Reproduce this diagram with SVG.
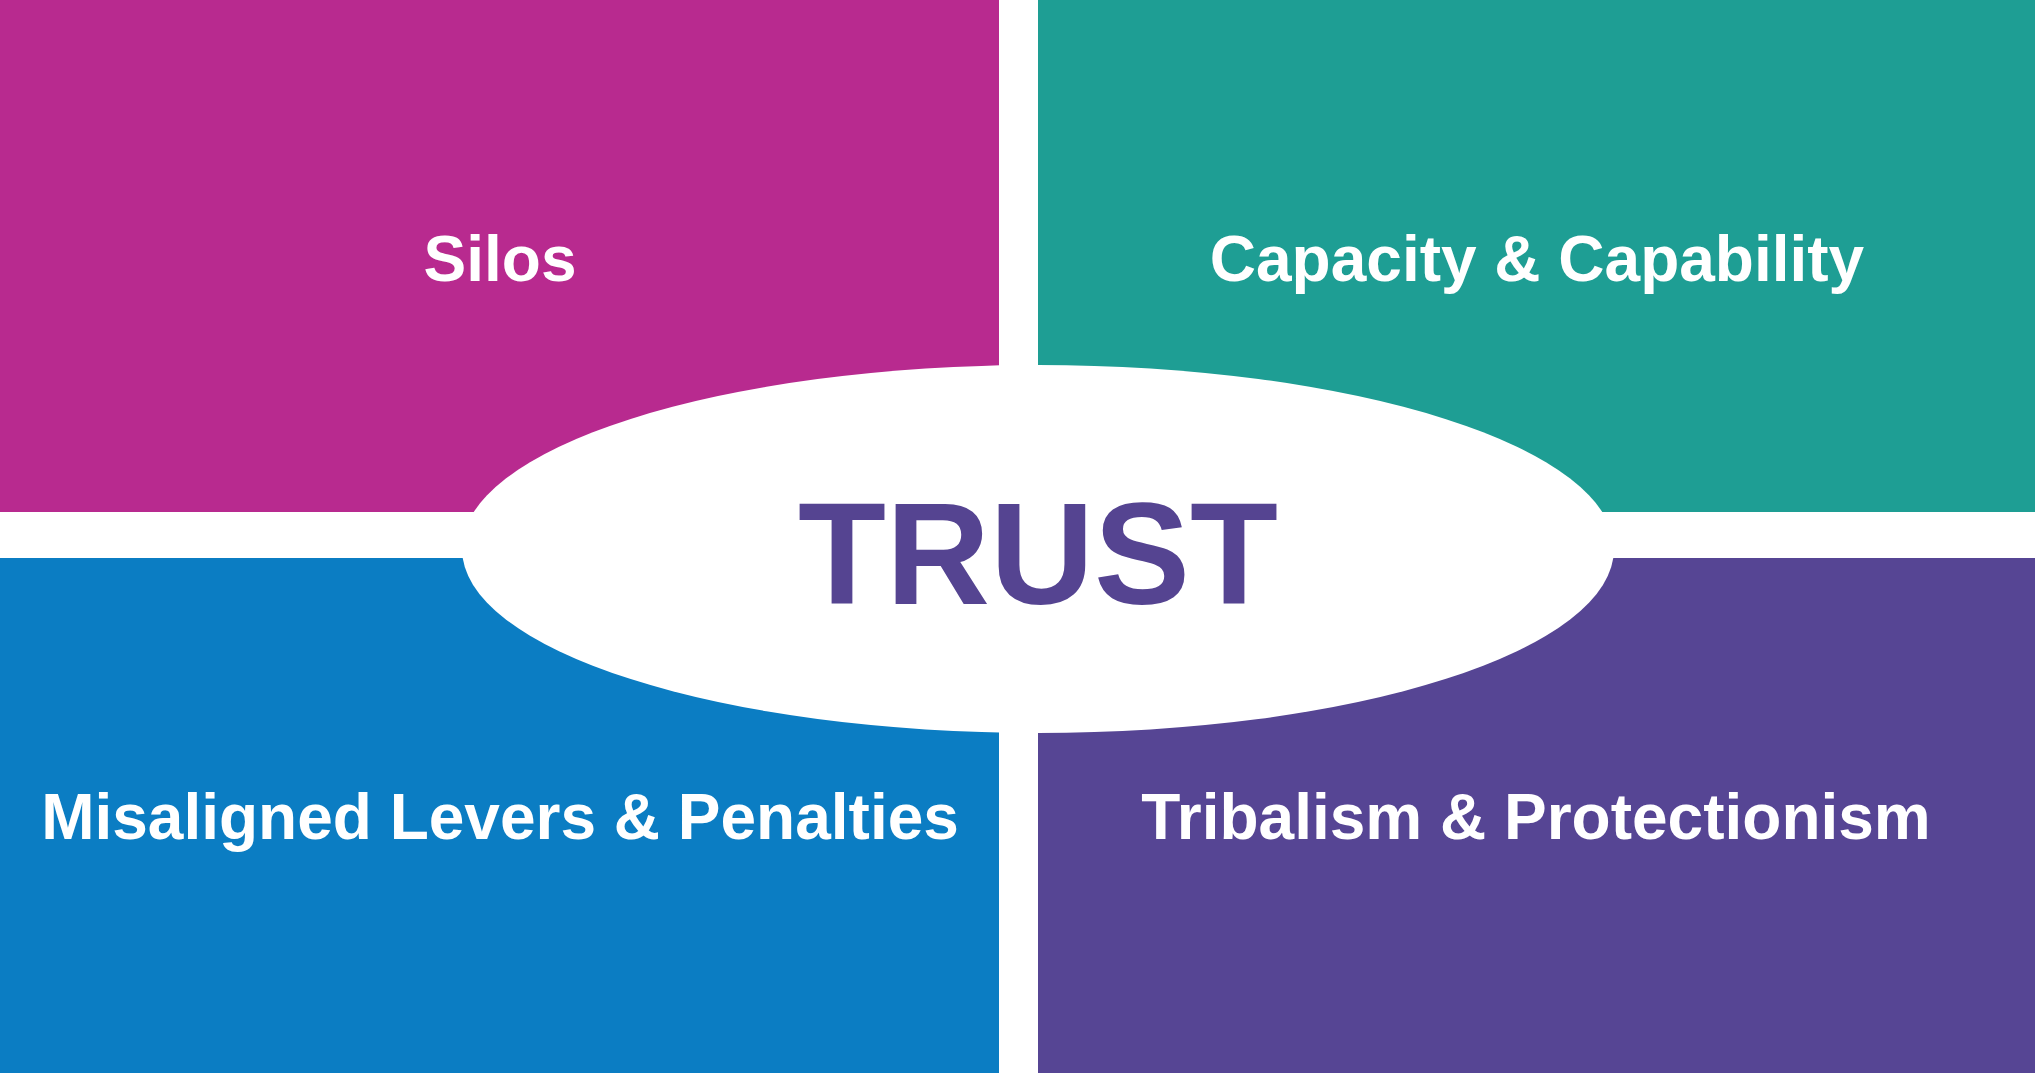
<svg xmlns="http://www.w3.org/2000/svg" width="2035" height="1073" viewBox="0 0 2035 1073">
<style>
.lbl{font-family:"Liberation Sans",Arial,sans-serif;font-weight:bold;font-size:64px;fill:#ffffff;text-anchor:middle}
.trust{font-family:"Liberation Sans",Arial,sans-serif;font-weight:bold;font-size:144px;fill:#554491;text-anchor:middle}
</style>
<rect width="2035" height="1073" fill="#ffffff"/>
<g id="silos"><rect x="0" y="0" width="999" height="512" fill="#B82A8F"/><text class="lbl" x="500" y="281">Silos</text></g>
<g id="capacity"><rect x="1038" y="0" width="997" height="512" fill="#1E9E94"/><text class="lbl" x="1537" y="281">Capacity &amp; Capability</text></g>
<g id="misaligned"><rect x="0" y="558" width="999" height="515" fill="#0B7DC3"/><text class="lbl" x="500" y="839">Misaligned Levers &amp; Penalties</text></g>
<g id="tribalism"><rect x="1038" y="558" width="997" height="515" fill="#564594"/><text class="lbl" x="1536" y="839">Tribalism &amp; Protectionism</text></g>
<g id="trust"><ellipse cx="1038" cy="549" rx="576" ry="184" fill="#ffffff"/><text class="trust" x="1038" y="604">TRUST</text></g>
<g id="connectors"></g>
</svg>
